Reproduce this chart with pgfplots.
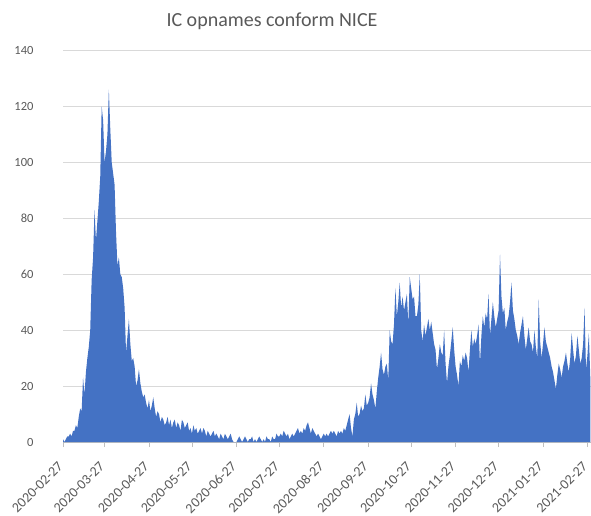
\documentclass[border=0pt]{standalone}
\usepackage{pgfplots}
\pgfplotsset{compat=1.18}
\usepackage{fontspec}
\setmainfont{Carlito}

\definecolor{icblue}{HTML}{4472C4}
\definecolor{gridgray}{HTML}{D9D9D9}
\definecolor{axisgray}{HTML}{BFBFBF}
\definecolor{textgray}{HTML}{595959}

\begin{document}
\begin{tikzpicture}
% canvas: 591 x 516 pt, origin at the top-left corner
\path[use as bounding box] (0pt,0pt) rectangle (591pt,-516pt);

\begin{axis}[
  at={(63pt,-442pt)}, anchor=south west,
  scale only axis,
  width=528pt, height=391.5pt,
  xmin=0, xmax=368.5,
  ymin=0, ymax=140,
  ytick={0,20,...,140},
  xtick={0,29,60,90,121,151,182,213,243,274,304,335,366},
  xticklabels={2020-02-27,2020-03-27,2020-04-27,2020-05-27,2020-06-27,2020-07-27,2020-08-27,2020-09-27,2020-10-27,2020-11-27,2020-12-27,2021-01-27,2021-02-27},
  axis x line*=bottom, axis y line*=left,
  x axis line style={draw=axisgray, line width=0.8pt},
  y axis line style={draw=none},
  ytick style={draw=none},
  xtick style={draw=axisgray, line width=0.8pt},
  tick align=outside, major tick length=5pt,
  ymajorgrids, grid style={gridgray, line width=0.8pt},
  /pgf/number format/assume math mode=true,
  ticklabel style={font=\fontsize{12.5}{14}\selectfont, text=textgray},
  yticklabel shift=21pt,
  xticklabel style={rotate=45, anchor=east, font=\fontsize{14}{16}\selectfont},
  xticklabel shift=15pt,
]
\addplot[fill=icblue, draw=none] coordinates {
(0,1) (1,0) (2,1) (3,2) (4,2) (5,3) (6,2) (7,4) (8,4) (9,6)
(10,5) (11,9) (12,12) (13,11) (14,23) (15,17) (16,25) (17,30) (18,34) (19,40)
(20,58) (21,66) (22,83) (23,72) (24,79) (25,86) (26,95) (27,120) (28,115) (29,100)
(30,104) (31,110) (32,126) (33,112) (34,100) (35,96) (36,92) (37,75) (38,63) (39,66)
(40,60) (41,59) (42,55) (43,48) (44,32) (45,38) (46,44) (47,35) (48,29) (49,30)
(50,27) (51,20) (52,22) (53,26) (54,21) (55,18) (56,16) (57,17) (58,14) (59,12)
(60,15) (61,11) (62,13) (63,16) (64,12) (65,9) (66,11) (67,10) (68,7) (69,9)
(70,8) (71,6) (72,7) (73,9) (74,6) (75,8) (76,5) (77,7) (78,8) (79,5)
(80,7) (81,6) (82,4) (83,8) (84,7) (85,5) (86,6) (87,7) (88,4) (89,5)
(90,3) (91,6) (92,4) (93,5) (94,3) (95,4) (96,5) (97,3) (98,5) (99,4)
(100,2) (101,4) (102,3) (103,2) (104,3) (105,4) (106,2) (107,3) (108,2) (109,1)
(110,3) (111,2) (112,1) (113,3) (114,2) (115,1) (116,2) (117,3) (118,1) (119,0)
(120,0) (121,0) (122,1) (123,2) (124,1) (125,0) (126,1) (127,2) (128,1) (129,0)
(130,1) (131,1) (132,2) (133,0) (134,1) (135,0) (136,1) (137,2) (138,1) (139,0)
(140,1) (141,0) (142,2) (143,1) (144,1) (145,0) (146,2) (147,1) (148,1) (149,3)
(150,2) (151,2) (152,3) (153,2) (154,4) (155,3) (156,2) (157,3) (158,1) (159,2)
(160,3) (161,2) (162,3) (163,4) (164,5) (165,3) (166,4) (167,3) (168,5) (169,4)
(170,6) (171,7) (172,5) (173,3) (174,5) (175,4) (176,3) (177,2) (178,3) (179,2)
(180,1) (181,2) (182,3) (183,2) (184,3) (185,2) (186,3) (187,4) (188,3) (189,4)
(190,3) (191,2) (192,4) (193,3) (194,4) (195,3) (196,5) (197,4) (198,6) (199,8)
(200,10) (201,5) (202,2) (203,8) (204,10) (205,14) (206,9) (207,10) (208,13) (209,11)
(210,12) (211,17) (212,13) (213,14) (214,16) (215,21) (216,17) (217,15) (218,12) (219,18)
(220,23) (221,27) (222,32) (223,26) (224,24) (225,27) (226,28) (227,22) (228,40) (229,36)
(230,35) (231,42) (232,55) (233,45) (234,50) (235,57) (236,48) (237,52) (238,47) (239,50)
(240,53) (241,42) (242,59) (243,55) (244,51) (245,52) (246,45) (247,45) (248,49) (249,60)
(250,40) (251,36) (252,42) (253,38) (254,41) (255,44) (256,40) (257,43) (258,39) (259,35)
(260,33) (261,26) (262,30) (263,35) (264,32) (265,31) (266,40) (267,28) (268,21) (269,27)
(270,31) (271,36) (272,41) (273,33) (274,27) (275,24) (276,20) (277,29) (278,27) (279,31)
(280,29) (281,32) (282,30) (283,25) (284,33) (285,40) (286,34) (287,37) (288,35) (289,38)
(290,42) (291,28) (292,38) (293,45) (294,41) (295,46) (296,44) (297,53) (298,38) (299,44)
(300,50) (301,45) (302,41) (303,44) (304,47) (305,67) (306,52) (307,46) (308,48) (309,40)
(310,43) (311,45) (312,50) (313,57) (314,47) (315,44) (316,40) (317,38) (318,35) (319,39)
(320,42) (321,45) (322,38) (323,33) (324,37) (325,41) (326,36) (327,35) (328,32) (329,40)
(330,34) (331,30) (332,51) (333,36) (334,30) (335,35) (336,41) (337,36) (338,34) (339,32)
(340,30) (341,27) (342,25) (343,22) (344,19) (345,24) (346,28) (347,26) (348,23) (349,27)
(350,29) (351,32) (352,28) (353,25) (354,30) (355,39) (356,33) (357,28) (358,31) (359,38)
(360,33) (361,28) (362,30) (363,35) (364,48) (365,26) (366,31) (367,39) (368,23)
} \closedcycle;
\end{axis}

\node[font=\fontsize{20}{24}\selectfont, text=textgray, anchor=base]
  at (272pt,-27pt) {IC opnames conform NICE};
\end{tikzpicture}
\end{document}
